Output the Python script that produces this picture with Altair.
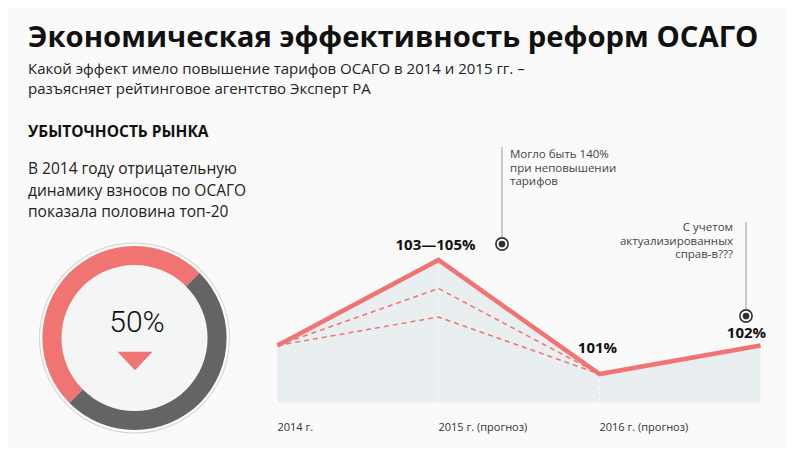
import altair as alt
import pandas as pd

# ---------------- data ----------------
title_text = "Экономическая эффективность реформ ОСАГО"
subtitle_lines = ["Какой эффект имело повышение тарифов ОСАГО в 2014 и 2015 гг. –",
                  "разъясняет рейтинговое агентство Эксперт РА"]
section_text = "УБЫТОЧНОСТЬ РЫНКА"
para_lines = ["В 2014 году отрицательную", "динамику взносов по ОСАГО", "показала половина топ-20"]

years = [2014, 2015, 2016, 2017]
loss_ratio = [102, 105, 101, 102]
dash_years = [2014, 2015, 2016]
scenario_high = [102, 104, 101]
scenario_low = [102, 103, 101]
tick_years = [2014, 2015, 2016]
tick_labels = ["2014 г.", "2015 г. (прогноз)", "2016 г. (прогноз)"]
point_label_years = [2015, 2016, 2017]
point_labels = ["103—105%", "101%", "102%"]

note1_lines = ["Могло быть 140%", "при неповышении", "тарифов"]
note2_lines = ["С учетом", "актуализированных", "справ-в???"]

donut_cats = ["Отрицательная динамика", "Остальные"]
donut_share = [50, 50]
donut_label = "50%"

# ---------------- styles ----------------
RED = "#f07472"
GRAY = "#636466"
AREA = "#e9eef0"
BG = "#fafafa"
FONT = "Open Sans"

main_df = pd.DataFrame({"year": years, "v": loss_ratio})
dash_df = pd.DataFrame({
    "year": dash_years * 2,
    "v": scenario_high + scenario_low,
    "s": ["high"] * len(dash_years) + ["low"] * len(dash_years),
})
tick_df = pd.DataFrame({"year": tick_years, "label": tick_labels})
lab_df = pd.DataFrame({"year": point_label_years, "label": point_labels,
                       "v": [loss_ratio[years.index(y)] for y in point_label_years]})
donut_df = pd.DataFrame({"cat": donut_cats, "share": donut_share, "idx": list(range(len(donut_cats)))})
one = pd.DataFrame({"a": [0]})

xs = alt.Scale(domain=[2012.32609, 2017.16460], nice=False, zero=False)
ys = alt.Scale(domain=[98.404, 113.842], nice=False, zero=False)
X = alt.X("year:Q", scale=xs, axis=None)
Y = alt.Y("v:Q", scale=ys, axis=None)

area = alt.Chart(main_df).mark_area(color=AREA).encode(x=X, y=Y, y2=alt.datum(100))

vrules = alt.Chart(main_df).transform_filter(
    "datum.year == 2015 || datum.year == 2016"
).mark_rule(color="white", strokeDash=[3, 3], strokeWidth=1, opacity=0.8).encode(x=X, y=Y, y2=alt.datum(100))

dashed = alt.Chart(dash_df).mark_line(color=RED, strokeWidth=1.5, strokeDash=[5, 4]).encode(
    x=X, y=Y, detail="s:N")

main_line = alt.Chart(main_df).mark_line(color=RED, strokeWidth=4.5, strokeJoin="miter").encode(x=X, y=Y)

def plabel(year, dx, dy):
    return alt.Chart(lab_df).transform_filter(f"datum.year == {year}").mark_text(
        font=FONT, fontSize=15, fontWeight="bold", color="#111", dx=dx, dy=dy, baseline="middle"
    ).encode(x=X, y=Y, text="label:N")

labels = [plabel(2015, -3, -15), plabel(2016, -2, -26), plabel(2017, -14, -13)]

ticks = alt.Chart(tick_df).mark_text(font=FONT, fontSize=11, color="#333", align="left",
                                     baseline="alphabetic").encode(
    x=X, y=alt.value(423), text="label:N")

def txt(lines, x, y, size, weight="normal", color="#111", align="left", lh=None):
    kw = dict(font=FONT, fontSize=size, fontWeight=weight, color=color, align=align,
              baseline="alphabetic")
    if lh:
        kw["lineHeight"] = lh
    return alt.Chart(one).mark_text(**kw).encode(
        x=alt.value(x), y=alt.value(y), text=alt.value(lines))

title = txt(title_text, 20, 39, 29.3, "bold", "#111")
subtitle = txt(subtitle_lines, 20, 66, 15, "normal", "#222", lh=20)
section = txt(section_text, 20, 129, 15.5, "bold", "#111")
para = txt(para_lines, 20, 166, 15.5, "normal", "#222", lh=21.5)
note1 = txt(note1_lines, 502, 150, 11.5, "normal", "#444", lh=13.5)
note2 = txt(note2_lines, 725, 223, 11.5, "normal", "#444", "right", lh=13.5)

def vline(x, y1, y2):
    return alt.Chart(one).mark_rule(color="#9a9a9a", strokeWidth=1).encode(
        x=alt.value(x), y=alt.value(y1), y2=alt.value(y2))

def marker(x, y):
    ring = alt.Chart(one).mark_point(shape="circle", size=150, filled=False, color="#333",
                                     strokeWidth=1.6, opacity=1).encode(x=alt.value(x), y=alt.value(y))
    dot = alt.Chart(one).mark_point(shape="circle", size=45, filled=True, color="#333",
                                    opacity=1).encode(x=alt.value(x), y=alt.value(y))
    return [ring, dot]

ann = [vline(494, 139, 230), vline(738, 214, 302)] + marker(494, 236) + marker(738, 308)

CX, CY = 126.5, 330
outline = alt.Chart(one).mark_arc(innerRadius=94.5, outerRadius=95.5, theta=0, theta2=6.2832,
                                  color="#d4d4d4").encode(x=alt.value(CX), y=alt.value(CY))
inner = alt.Chart(one).mark_arc(outerRadius=73, theta=0, theta2=6.2832,
                                color="#f4f6f6").encode(x=alt.value(CX), y=alt.value(CY))
donut = alt.Chart(donut_df).mark_arc(innerRadius=73, outerRadius=92).encode(
    theta=alt.Theta("share:Q", stack=True, scale=alt.Scale(range=[-2.3562, 3.9270])),
    color=alt.Color("cat:N", scale=alt.Scale(domain=donut_cats, range=[RED, GRAY]), legend=None),
    order=alt.Order("idx:Q"),
    x=alt.value(CX), y=alt.value(CY))
pct = alt.Chart(one).mark_text(font="Roboto", fontSize=30, fontWeight=300, color="#111",
                               baseline="middle").encode(
    x=alt.value(129), y=alt.value(315), text=alt.value(donut_label))
tri = alt.Chart(one).mark_point(shape="M-1,-0.53L1,-0.53L0,0.53Z", size=1225, filled=True,
                                color=RED, opacity=1).encode(x=alt.value(127), y=alt.value(353))

chart = alt.layer(
    area, vrules, dashed, main_line, *labels, ticks,
    title, subtitle, section, para, note1, note2, *ann,
    outline, inner, donut, pct, tri,
).properties(
    width=779, height=440, padding=0, background=BG,
    autosize=alt.AutoSizeParams(type="none"),
).configure_view(stroke=None)

chart.save("out.html", embed_options={"renderer": "svg", "actions": False})
